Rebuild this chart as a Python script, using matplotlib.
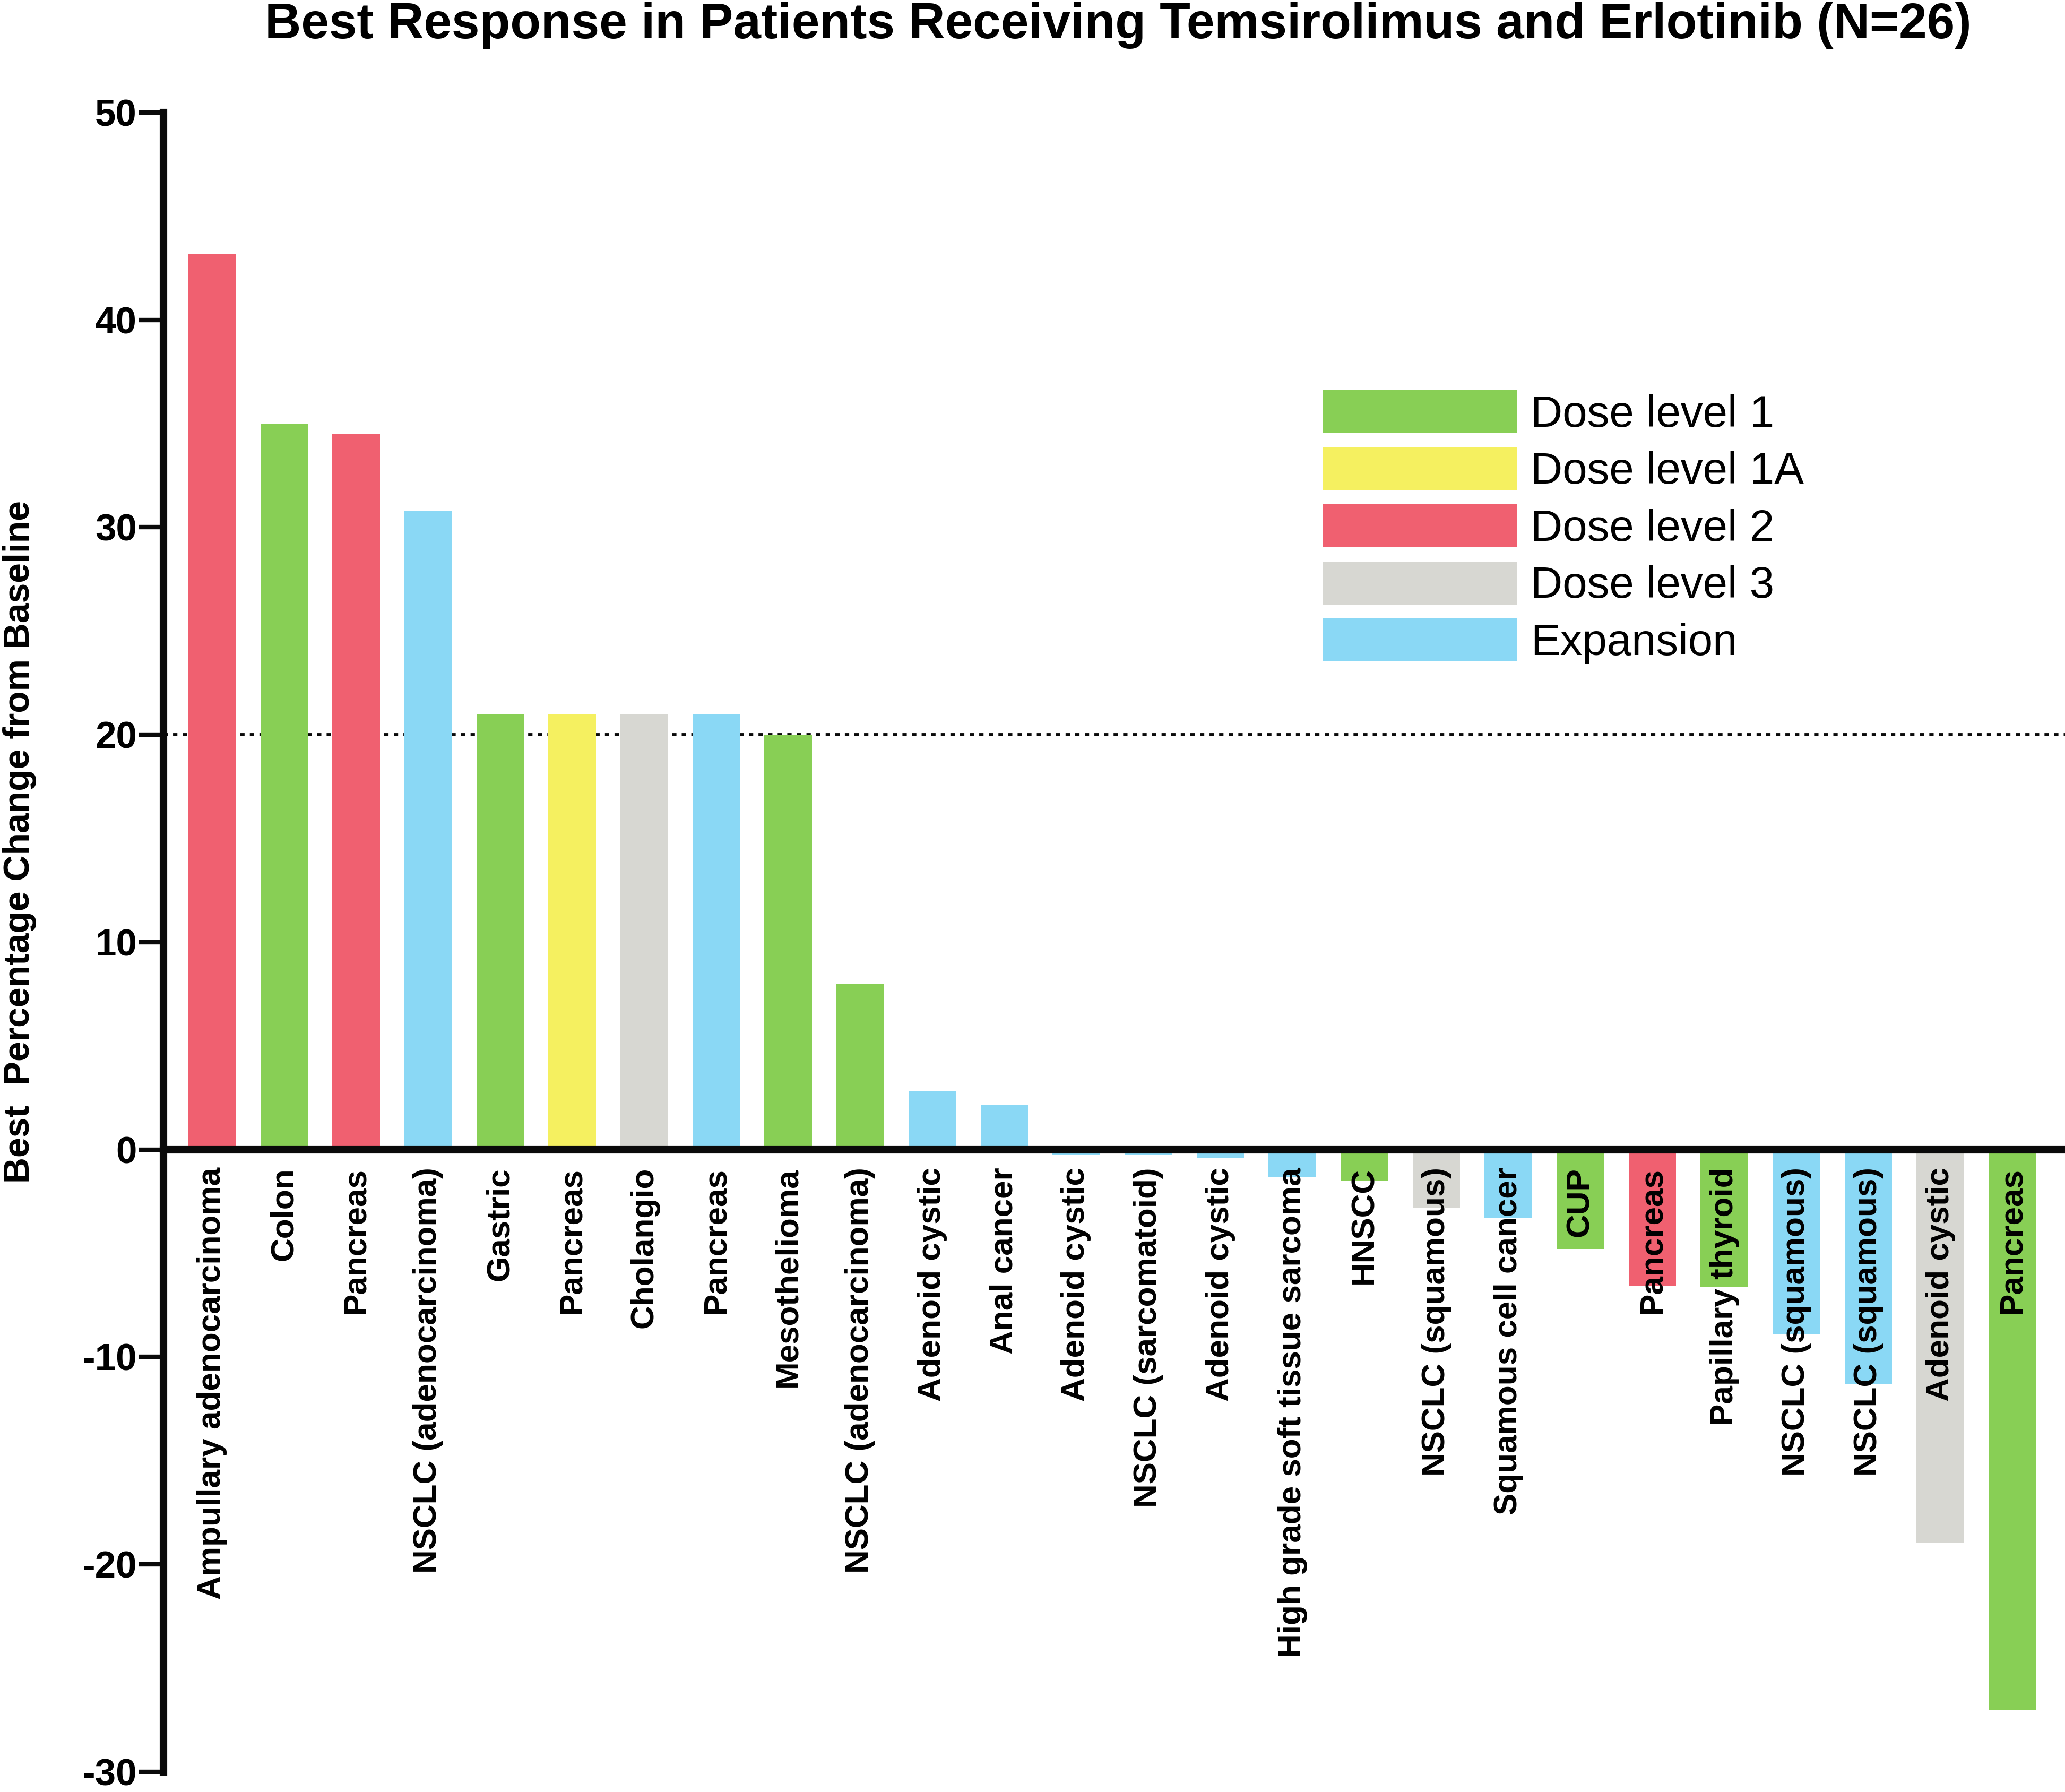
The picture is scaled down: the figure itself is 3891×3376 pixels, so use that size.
"""Waterfall chart: best response, temsirolimus + erlotinib."""

import matplotlib

matplotlib.use("Agg")

import matplotlib.pyplot as plt
import numpy as np
from matplotlib.patches import Patch

# Data
tumours = [
    "Ampullary adenocarcinoma", "Colon", "Pancreas", "NSCLC (adenocarcinoma)",
    "Gastric", "Pancreas", "Cholangio", "Pancreas", "Mesothelioma",
    "NSCLC (adenocarcinoma)", "Adenoid cystic", "Anal cancer", "Adenoid cystic",
    "NSCLC (sarcomatoid)", "Adenoid cystic", "High grade soft tissue sarcoma",
    "HNSCC", "NSCLC (squamous)", "Squamous cell cancer", "CUP", "Pancreas",
    "Papillary thyroid", "NSCLC (squamous)", "NSCLC (squamous)",
    "Adenoid cystic", "Pancreas",
]
best_change = [
    43.2, 35.0, 34.5, 30.8, 21.0, 21.0, 21.0, 21.0, 20.0, 8.0, 2.8, 2.15,
    -0.25, -0.25, -0.4, -1.33, -1.48, -2.79, -3.32, -4.79, -6.56, -6.62,
    -8.9, -11.3, -18.95, -27.0,
]
cohort = [
    "Dose level 2", "Dose level 1", "Dose level 2", "Expansion",
    "Dose level 1", "Dose level 1A", "Dose level 3", "Expansion",
    "Dose level 1", "Dose level 1", "Expansion", "Expansion", "Expansion",
    "Expansion", "Expansion", "Expansion", "Dose level 1", "Dose level 3",
    "Expansion", "Dose level 1", "Dose level 2", "Dose level 1",
    "Expansion", "Expansion", "Dose level 3", "Dose level 1",
]
cohort_names = ["Dose level 1", "Dose level 1A", "Dose level 2",
                "Dose level 3", "Expansion"]
threshold = 20

_COLORS = {
    "Dose level 1": "#88cf55",
    "Dose level 1A": "#f5f060",
    "Dose level 2": "#f06070",
    "Dose level 3": "#d7d7d2",
    "Expansion": "#8ad8f5",
}
_INK = "#0a0a0a"

plt.rcParams["font.family"] = ["Liberation Sans", "DejaVu Sans"]
plt.rcParams["axes.unicode_minus"] = False

W, H, DPI = 3891, 3376, 300
fig = plt.figure(figsize=(W / DPI, H / DPI), dpi=DPI)
ax = fig.add_axes([308 / W, 1 - 3338 / H, 1 - 308 / W, (3338 - 212) / H])

x = np.arange(len(tumours))
ax.bar(x, best_change, width=0.66,
       color=[_COLORS[c] for c in cohort], zorder=2, linewidth=0)

# 20 % threshold
ax.axhline(threshold, color=_INK, linewidth=1.4,
           linestyle=(0, (1.4, 1.7)), zorder=1)

ax.set_xlim(-0.676, 25.73)
ax.set_ylim(-30, 50)
ax.set_yticks(np.arange(-30, 51, 10))

# Spines: thick y axis, zero line as x axis
for side in ("top", "right"):
    ax.spines[side].set_visible(False)
ax.spines["left"].set_linewidth(3.4)
ax.spines["left"].set_color(_INK)
ax.spines["bottom"].set_position(("data", 0))
ax.spines["bottom"].set_linewidth(3.4)
ax.spines["bottom"].set_color(_INK)
ax.spines["bottom"].set_zorder(3)

# tick labels sit on top of the negative bars
ax.xaxis.set_zorder(4)

ax.set_xticks(x)
ax.set_xticklabels(tumours, rotation=90, fontsize=14.9, fontweight="bold")
ax.tick_params(axis="x", length=0, pad=8)
ax.tick_params(axis="y", length=11, width=2, color=_INK, pad=1,
               labelsize=17)
for lbl in ax.get_yticklabels():
    lbl.set_fontweight("bold")

ax.set_ylabel("Best  Percentage Change from Baseline", fontsize=16.3,
              fontweight="bold")
ax.yaxis.set_label_coords(-0.0668, 0.5606)

fig.text(2107 / W, 0.999,
         "Best Response in Patients Receiving Temsirolimus and Erlotinib (N=26)",
         ha="center", va="top", fontsize=22.7, fontweight="bold")

handles = [Patch(facecolor=_COLORS[c], edgecolor="none") for c in cohort_names]
ax.legend(handles, cohort_names, loc="upper left",
          bbox_to_anchor=(2492 / W, 1 - 735 / H),
          bbox_transform=fig.transFigure, frameon=False, fontsize=20,
          handlelength=4.4, handleheight=1.12, handletextpad=0.3,
          labelspacing=0.26, borderpad=0, borderaxespad=0)

fig.savefig("out.png", dpi=DPI, facecolor="white")
